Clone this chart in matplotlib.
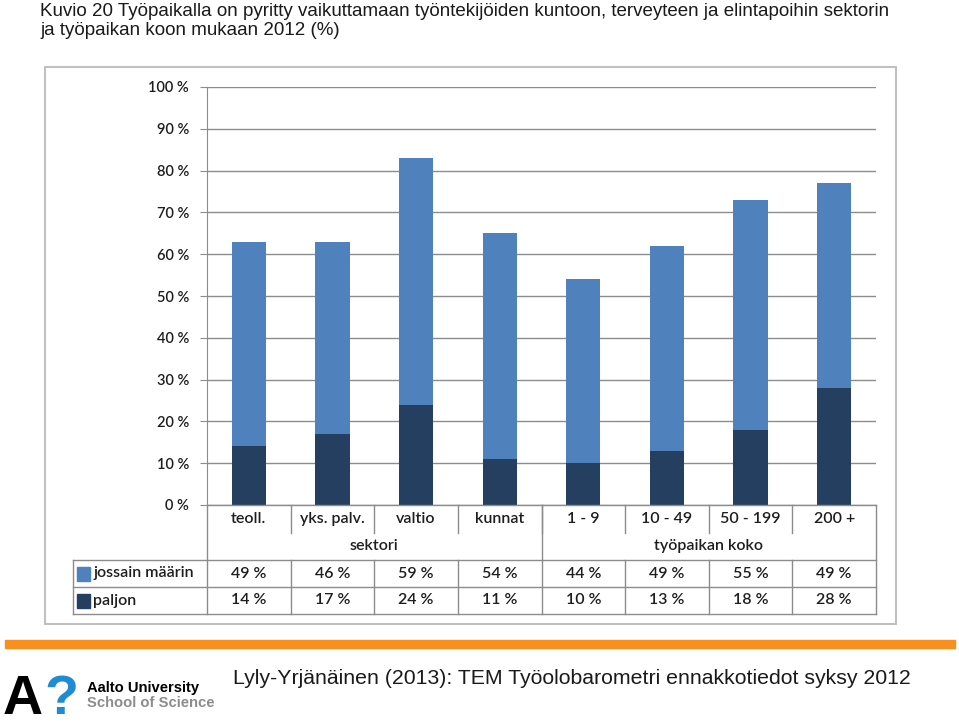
import matplotlib
matplotlib.use('Agg')
import matplotlib.pyplot as plt
import matplotlib.transforms as mtransforms
from matplotlib.lines import Line2D
from matplotlib.patches import Rectangle

# --- data ---
kategoriat = ['teoll.', 'yks. palv.', 'valtio', 'kunnat', '1 - 9', '10 - 49', '50 - 199', '200 +']
ryhmat = ['sektori', 'työpaikan koko']
ryhma_koot = [4, 4]
paljon = [14, 17, 24, 11, 10, 13, 18, 28]
jossain = [49, 46, 59, 54, 44, 49, 55, 49]
sarjat = ['jossain määrin', 'paljon']
y_ticks = list(range(0, 101, 10))

otsikko = ('Kuvio 20 Työpaikalla on pyritty vaikuttamaan työntekijöiden kuntoon, terveyteen ja elintapoihin sektorin\n'
           'ja työpaikan koon mukaan 2012 (%)')
lahde = 'Lyly-Yrjänäinen (2013): TEM Työolobarometri ennakkotiedot syksy 2012'

vaalea = '#4F81BD'
tumma = '#243F60'
viiva = '#8C8C8C'
narrow = ['Liberation Sans Narrow', 'Liberation Sans', 'DejaVu Sans']
chartfont = ['Lato', 'DejaVu Sans']
tekstivari = '#1e1e1e'

W, H = 959, 727
fig = plt.figure(figsize=(W / 100, H / 100), dpi=100)
fig.patch.set_facecolor('white')

def fx(x):
    return x / W

def fy(y):
    return 1 - y / H

# otsikko
fig.text(fx(40), fy(3), otsikko, ha='left', va='top', fontsize=13.5,
         family=narrow, color='#1a1a1a', linespacing=1.15)

# kaavion kehys
fig.add_artist(Rectangle((fx(45), fy(624)), fx(896) - fx(45), fy(67) - fy(624),
                         transform=fig.transFigure, fill=False, edgecolor='#C0C0C0', lw=1.5))

# akselit
ax = fig.add_axes([fx(207), fy(505), fx(876) - fx(207), fy(87) - fy(505)])
x = list(range(len(kategoriat)))
ax.bar(x, paljon, width=0.41, color=tumma, zorder=3)
ax.bar(x, jossain, width=0.41, bottom=paljon, color=vaalea, zorder=3)
ax.set_xlim(-0.5, len(kategoriat) - 0.5)
ax.set_ylim(0, 100)
ax.set_yticks(y_ticks)
ax.set_yticklabels([f'{t} %' for t in y_ticks], family=chartfont, fontsize=10.5,
                   fontweight='semibold', color=tekstivari)
ax.set_xticks([])
ax.yaxis.grid(True, color=viiva, lw=1, zorder=0)
for s in ['top', 'right', 'bottom']:
    ax.spines[s].set_visible(False)
ax.spines['left'].set_color(viiva)
ax.tick_params(axis='y', length=5, color=viiva, pad=8)

# taulukko (x datasta, y kuvan pikseleinä)
tr = mtransforms.blended_transform_factory(ax.transData, fig.transFigure)
vasen = -0.5
oikea = len(kategoriat) - 0.5
leg_vasen = vasen - (207 - 73) / ((876 - 207) / len(kategoriat))

def hline(x0, x1, y):
    fig.add_artist(Line2D([x0, x1], [fy(y), fy(y)], transform=tr, color=viiva, lw=1))

def vline(xv, y0, y1):
    fig.add_artist(Line2D([xv, xv], [fy(y0), fy(y1)], transform=tr, color=viiva, lw=1))

hline(vasen, oikea, 505)
hline(leg_vasen, oikea, 560)
hline(leg_vasen, oikea, 587)
hline(leg_vasen, oikea, 614)
vline(vasen, 505, 614)
vline(oikea, 505, 614)
vline(leg_vasen, 560, 614)
for i in range(1, len(kategoriat)):
    vline(i - 0.5, 505, 533)
    vline(i - 0.5, 560, 614)
raja = vasen
for koko in ryhma_koot[:-1]:
    raja += koko
    vline(raja, 505, 560)

taulu_fs = 11.5
for i, k in enumerate(kategoriat):
    fig.text(i, fy(519), k, transform=tr, ha='center', va='center',
             family=chartfont, fontsize=taulu_fs, fontweight='semibold', color=tekstivari)
alku = vasen
for nimi, koko in zip(ryhmat, ryhma_koot):
    fig.text(alku + koko / 2, fy(546), nimi, transform=tr, ha='center', va='center',
             family=chartfont, fontsize=taulu_fs, fontweight='semibold', color=tekstivari)
    alku += koko

for rivi_y, nimi, arvot, vari in [(573.5, sarjat[0], jossain, vaalea), (600.5, sarjat[1], paljon, tumma)]:
    fig.add_artist(Rectangle((leg_vasen + 0.05, fy(rivi_y + 7)), 0.15, fy(rivi_y - 7) - fy(rivi_y + 7),
                             transform=tr, color=vari))
    fig.text(leg_vasen + 0.24, fy(rivi_y), nimi, transform=tr, ha='left', va='center',
             family=chartfont, fontsize=taulu_fs, fontweight='semibold', color=tekstivari)
    for i, v in enumerate(arvot):
        fig.text(i, fy(rivi_y), f'{v} %', transform=tr, ha='center', va='center',
                 family=chartfont, fontsize=taulu_fs, fontweight='semibold', color=tekstivari)

# alaosa
fig.add_artist(Rectangle((fx(5), fy(648)), fx(955) - fx(5), fy(640) - fy(648),
                         transform=fig.transFigure, color='#F7901E'))
fig.text(fx(3), fy(726), 'A', ha='left', va='bottom', fontsize=40, fontweight='bold',
         family=['Liberation Sans', 'DejaVu Sans'], color='black')
fig.text(fx(44), fy(726), '?', ha='left', va='bottom', fontsize=40, fontweight='bold',
         family=['Liberation Sans', 'DejaVu Sans'], color='#1F8BD2')
fig.text(fx(87), fy(688), 'Aalto University', ha='left', va='center', fontsize=10.6,
         fontweight='bold', family=narrow, color='black')
fig.text(fx(87), fy(703), 'School of Science', ha='left', va='center', fontsize=10.6,
         fontweight='bold', family=narrow, color='#8C8C8C')
fig.text(fx(233), fy(678), lahde, ha='left', va='center', fontsize=15.3,
         family=narrow, color='#1a1a1a')

fig.savefig('out.png', dpi=100, facecolor='white')
